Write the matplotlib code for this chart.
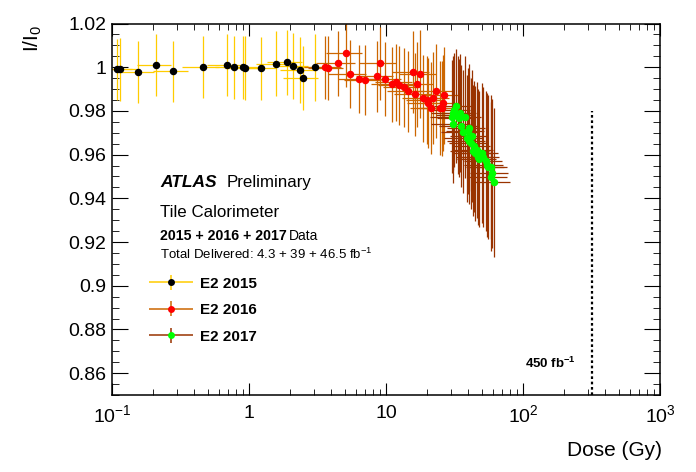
import numpy as np
import matplotlib
matplotlib.use('Agg')
import matplotlib.pyplot as plt
from matplotlib.ticker import FixedLocator, NullFormatter
from matplotlib.legend_handler import HandlerErrorbar
from matplotlib.container import ErrorbarContainer

plt.rcParams['font.family'] = ['Liberation Sans', 'DejaVu Sans']
plt.rcParams['mathtext.fontset'] = 'custom'
plt.rcParams['mathtext.rm'] = 'Liberation Sans'
plt.rcParams['mathtext.bf'] = 'Liberation Sans:bold'

# --- data ---
dose_2015 = [0.109, 0.114, 0.156, 0.211, 0.279, 0.464, 0.695, 0.781, 0.904, 0.939,
             1.23, 1.58, 1.90, 2.10, 2.37, 2.48, 3.05]
resp_2015 = [0.9990, 0.9990, 0.9978, 1.0010, 0.9981, 1.0000, 1.0010, 1.0000, 0.9999, 0.9995,
             0.9995, 1.0015, 1.0022, 1.0006, 0.9987, 0.9949, 1.0000]
yerr_2015 = [0.0140, 0.0143, 0.0141, 0.0141, 0.0141, 0.0143, 0.0143, 0.0145, 0.0145, 0.0147,
             0.0145, 0.0149, 0.0149, 0.0150, 0.0150, 0.0147, 0.0154]
xerr_2015 = [0.03, 0.035, 0.045, 0.06, 0.08, 0.14, 0.20, 0.22, 0.26, 0.27,
             0.35, 0.45, 0.55, 0.60, 0.70, 0.70, 0.90]

dose_2016 = [3.61, 3.79, 4.49, 5.13, 5.49, 6.38, 7.06, 8.64, 9.08, 9.89,
             11.1, 11.9, 12.5, 13.6, 14.5, 15.8, 16.4, 16.9, 17.8, 18.7,
             20.0, 20.4, 21.4, 22.1, 23.3, 24.6, 25.6, 26.2, 26.6]
resp_2016 = [1.0000, 0.9995, 1.0018, 1.0064, 0.9968, 0.9945, 0.9940, 0.9958, 1.0018, 0.9945,
             0.9922, 0.9931, 0.9917, 0.9908, 0.9890, 0.9978, 0.9876, 0.9922, 0.9968, 0.9858,
             0.9849, 0.9835, 0.9812, 0.9858, 0.9890, 0.9812, 0.9812, 0.9835, 0.9871]
yerr_2016 = [0.0145, 0.0147, 0.0149, 0.0153, 0.0156, 0.0155, 0.0160, 0.0164, 0.0168, 0.0169,
             0.0172, 0.0176, 0.0180, 0.0182, 0.0185, 0.0188, 0.0189, 0.0195, 0.0200, 0.0198,
             0.0200, 0.0206, 0.0210, 0.0210, 0.0214, 0.0216, 0.0218, 0.0220, 0.0222]
xerr_2016 = [1.1, 1.1, 1.4, 1.5, 1.7, 1.9, 2.1, 2.6, 2.7, 3.0,
             3.3, 3.6, 3.8, 4.1, 4.4, 4.8, 5.0, 5.1, 5.4, 5.6,
             6.0, 6.1, 6.4, 6.6, 7.0, 7.4, 7.7, 7.9, 8.0]

dose_2017 = [30.5, 31.0, 31.0, 31.5, 32.4, 33.4, 34.3, 34.7, 35.3, 36.7,
             37.7, 38.8, 39.9, 40.3, 40.5, 41.7, 42.3, 42.9, 44.1, 44.6,
             45.9, 47.2, 48.0, 50.0, 51.3, 53.4, 54.3, 55.8, 58.1, 58.4,
             59.1, 61.4]
resp_2017 = [0.9774, 0.9789, 0.9740, 0.9804, 0.9822, 0.9781, 0.9766, 0.9789, 0.9731, 0.9705,
             0.9771, 0.9675, 0.9708, 0.9723, 0.9664, 0.9652, 0.9685, 0.9618, 0.9639, 0.9606,
             0.9621, 0.9590, 0.9579, 0.9609, 0.9590, 0.9572, 0.9552, 0.9545, 0.9542, 0.9499,
             0.9514, 0.9473]
yerr_2017 = [0.026, 0.026, 0.027, 0.026, 0.026, 0.027, 0.027, 0.027, 0.028, 0.028,
             0.028, 0.029, 0.029, 0.029, 0.029, 0.030, 0.030, 0.030, 0.030, 0.031,
             0.031, 0.031, 0.031, 0.032, 0.032, 0.032, 0.033, 0.033, 0.033, 0.034,
             0.034, 0.034]
xerr_2017 = [9.5, 9.7, 9.7, 9.8, 10.1, 10.4, 10.7, 10.8, 11.0, 11.4,
             11.7, 12.1, 12.4, 12.5, 12.6, 13.0, 13.2, 13.4, 13.7, 13.9,
             14.3, 14.7, 15.0, 15.6, 16.0, 16.6, 16.9, 17.4, 18.1, 18.2,
             18.4, 19.1]

series = [
    ('E2 2015', dose_2015, resp_2015, xerr_2015, yerr_2015, 'black', '#ffcc00'),
    ('E2 2016', dose_2016, resp_2016, xerr_2016, yerr_2016, '#ff0000', '#cc6600'),
    ('E2 2017', dose_2017, resp_2017, xerr_2017, yerr_2017, '#00ff00', '#993300'),
]

lumi_dose = 317      # dose at 450 fb-1
lumi_top = 0.98

fig = plt.figure(figsize=(6.96, 4.72), dpi=100)
ax = fig.add_axes([112 / 696, 1 - 395 / 472, 548 / 696, 371.5 / 472])

handles = []
for label, x, y, xe, ye, mcol, ecol in series:
    ax.errorbar(x, y, xerr=xe, yerr=ye, fmt='o', color=mcol, ecolor=ecol,
                ms=5.4, mew=0, elinewidth=0.9, capsize=0)
    # legend handle with end caps, like the ROOT legend
    h = ax.errorbar([np.nan], [np.nan], xerr=[np.nan], yerr=[np.nan], fmt='o',
                    color=mcol, ecolor=ecol, ms=5.0, mew=0, elinewidth=1.1,
                    capsize=4, capthick=1.2)
    handles.append((h, label))

ax.plot([lumi_dose, lumi_dose], [0.85, lumi_top], color='black', ls=(0, (1.2, 1.2)), lw=1.6)
ax.text(103, 0.8645, r'450 fb$^{\mathbf{-1}}$', fontsize=9.5, fontweight='bold', va='center')

ax.set_xscale('log')
ax.set_xlim(0.1, 1000)
ax.set_ylim(0.85, 1.02)

ax.set_xticks([0.1, 1, 10, 100, 1000],
              labels=[r'$10^{-1}$', '1', '10', r'$10^{2}$', r'$10^{3}$'])
ax.xaxis.set_minor_locator(FixedLocator(
    [m * 10.0 ** e for e in range(-1, 3) for m in range(2, 10)]))
ax.xaxis.set_minor_formatter(NullFormatter())
yt = [0.86, 0.88, 0.90, 0.92, 0.94, 0.96, 0.98, 1.00, 1.02]
ax.set_yticks(yt, labels=['0.86', '0.88', '0.9', '0.92', '0.94', '0.96', '0.98', '1', '1.02'])
ax.yaxis.set_minor_locator(FixedLocator(np.arange(0.85, 1.0201, 0.005)))

ax.tick_params(which='both', direction='in', top=True, right=True, labelsize=14)
ax.tick_params(axis='x', which='major', length=8.6, pad=7)
ax.tick_params(axis='x', which='minor', length=4.3)
ax.tick_params(axis='y', which='major', length=11.5, pad=4)
ax.tick_params(axis='y', which='minor', length=5)
for s in ax.spines.values():
    s.set_linewidth(1.1)

fig.text(662 / 696, 1 - 456 / 472, 'Dose (Gy)', fontsize=15, ha='right', va='baseline')
fig.text(33 / 696, 1 - 25 / 472, r'I/I$_0$', fontsize=15, rotation=90, ha='center', va='top')

# labels
fig.text(160 / 696, 1 - 187 / 472, 'ATLAS', fontsize=12.5, fontweight='bold', style='italic')
fig.text(227 / 696, 1 - 187 / 472, 'Preliminary', fontsize=12.2)
fig.text(160 / 696, 1 - 217 / 472, 'Tile Calorimeter', fontsize=12.2)
fig.text(160 / 696, 1 - 240 / 472, '2015 + 2016 + 2017', fontsize=10.2, fontweight='bold')
fig.text(289 / 696, 1 - 240 / 472, 'Data', fontsize=10)
fig.text(160 / 696, 1 - 259 / 472, r'Total Delivered: 4.3 + 39 + 46.5 fb$^{-1}$', fontsize=9.5)

leg = ax.legend([h for h, _ in handles], [l for _, l in handles],
                loc='upper left', bbox_to_anchor=(36 / 548, 1 - 253 / 371.5),
                frameon=False, handlelength=3.0, handletextpad=0.4,
                labelspacing=0.82, borderaxespad=0, borderpad=0,
                handler_map={ErrorbarContainer: HandlerErrorbar(xerr_size=1.45, yerr_size=0.5)},
                prop={'weight': 'bold', 'size': 11})

fig.savefig('out.png', dpi=100)
